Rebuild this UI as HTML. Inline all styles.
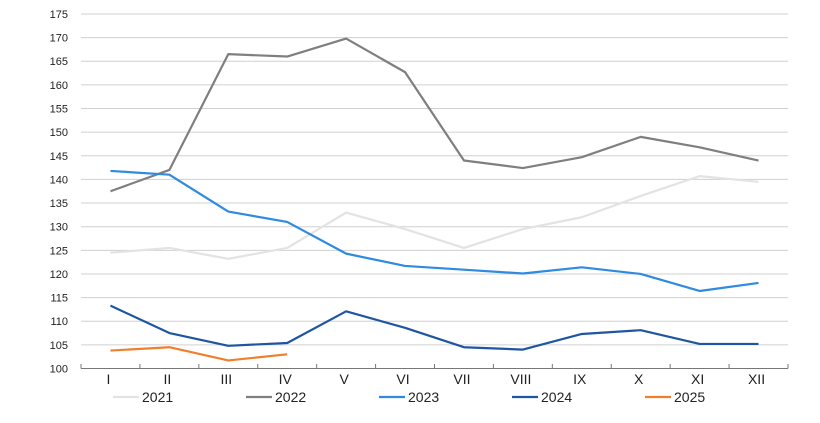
<!DOCTYPE html>
<html><head><meta charset="utf-8"><style>
body{margin:0;background:#fff}
svg{display:block;font-family:"Liberation Sans",sans-serif}
</style></head><body>
<svg id="c" width="820" height="423" viewBox="0 0 820 423"></svg>
<script>
const s=document.getElementById('c');
const X0=81,X1=788,W=(X1-X0)/12;
const y=v=>368.5-(v-100)*4.727;
const x=i=>X0+W*(i+0.5);
let h='';
for(let v=100;v<=175;v+=5){
  if(v>100)h+=`<line x1="${X0}" x2="${X1}" y1="${y(v)}" y2="${y(v)}" stroke="#d0d0d0" stroke-width="1"/>`;
  h+=`<text x="68" y="${y(v)+4}" font-size="11" text-anchor="end" fill="#222">${v}</text>`;
}
h+=`<line x1="${X0}" x2="${X1}" y1="368.5" y2="368.5" stroke="#777" stroke-width="1"/>`;
for(let i=0;i<=12;i++)h+=`<line x1="${X0+W*i}" x2="${X0+W*i}" y1="364" y2="368.5" stroke="#777"/>`;
const L=['I','II','III','IV','V','VI','VII','VIII','IX','X','XI','XII'];
L.forEach((l,i)=>h+=`<text x="${x(i)-2}" y="384" font-size="14" text-anchor="middle" fill="#222">${l}</text>`);
const D=[
['2021','#e3e3e3',[124.5,125.5,123.2,125.5,133,129.5,125.5,129.5,132,136.5,140.7,139.5]],
['2022','#7f7f7f',[137.5,142,166.5,166,169.8,162.7,144,142.4,144.7,149,146.8,144]],
['2023','#2e8be0',[141.8,141,133.2,131,124.3,121.7,120.9,120.1,121.4,120,116.4,118.1]],
['2024','#1f56a3',[113.3,107.5,104.8,105.4,112.1,108.6,104.5,104,107.3,108.1,105.2,105.2]],
['2025','#f07f2d',[103.8,104.5,101.7,103]]];
D.forEach((d,k)=>{
  h+=`<polyline fill="none" stroke="${d[1]}" stroke-width="2.2" stroke-linejoin="round" points="${d[2].map((v,i)=>x(i)+','+y(v)).join(' ')}"/>`;
  const lx=113+k*133;
  h+=`<line x1="${lx}" x2="${lx+26}" y1="397" y2="397" stroke="${d[1]}" stroke-width="2.2"/>`;
  h+=`<text x="${lx+29}" y="402" font-size="14" fill="#222">${d[0]}</text>`;
});
s.innerHTML=h;
</script>
</body></html>
